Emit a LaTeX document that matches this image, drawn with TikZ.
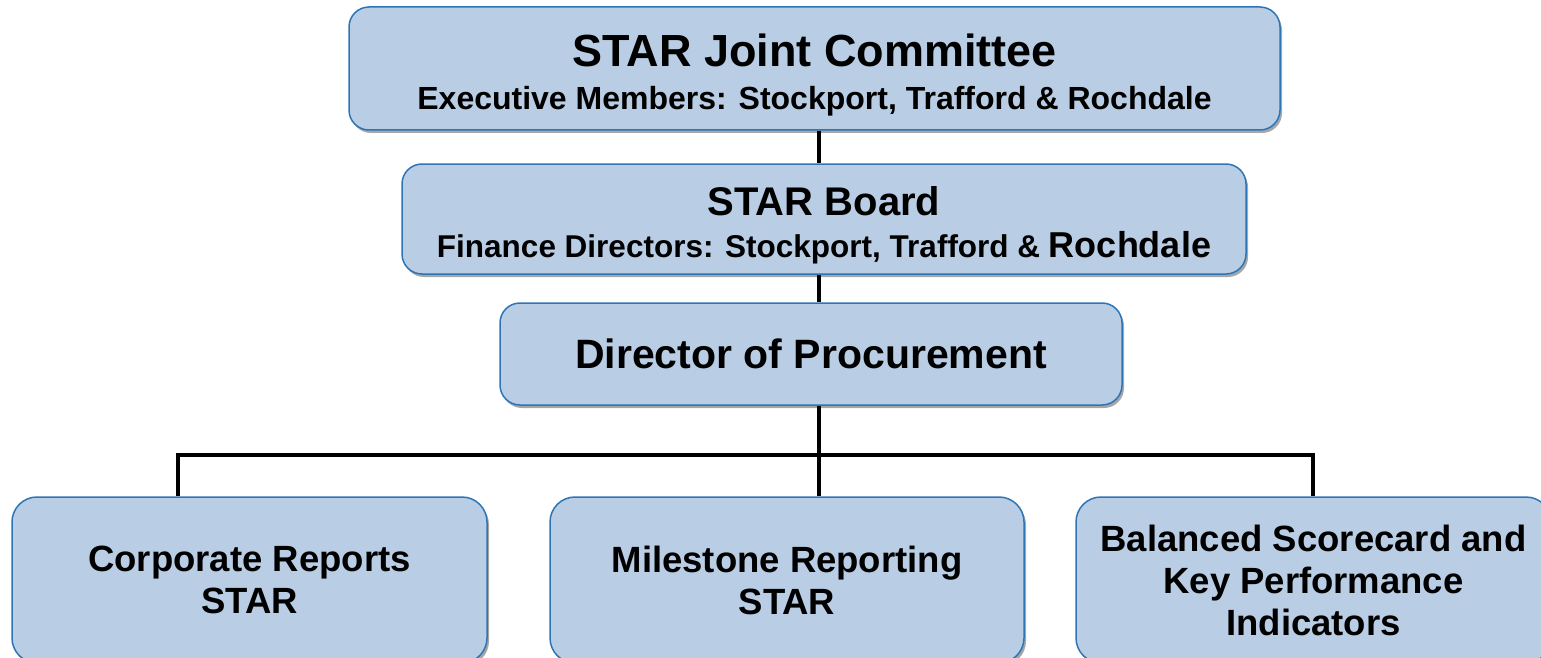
\documentclass[tikz,border=0pt]{standalone}
\usepackage{fontspec}
\setmainfont{Liberation Sans}
\usetikzlibrary{shadows}
\definecolor{boxfill}{HTML}{B9CDE5}
\definecolor{boxline}{HTML}{2E75B6}
\newcommand{\fsz}[2]{\fontsize{#1}{#2}\selectfont\bfseries}
\begin{document}
\begin{tikzpicture}[x=1pt, y=-1pt,
		box/.style = {draw=boxline, fill=boxfill, line width=1.5pt, rounded corners=20pt, align=center, inner sep=0pt,
			drop shadow={shadow xshift=2pt, shadow yshift=-3pt, fill=black, opacity=0.35}},
		leaf/.style = {box, rounded corners=25pt, minimum height=166pt, font=\fsz{36.5}{42}},
		link/.style = {line width=4pt}]
	\useasboundingbox (0,0) rectangle (1541,658);
	% top
	\node[box, minimum width=931pt, minimum height=123pt, font=\fsz{32}{43}] (jc) at (814.5,68.5)
		{{\fsz{45}{43}\rule{0pt}{45pt}STAR Joint Committee}\\
		 Executive Members: Stockport, Trafford \& Rochdale};
	\node[box, minimum width=844pt, minimum height=110pt, font=\fsz{31.5}{42}] (board) at (824,219)
		{{\fsz{40}{42}\rule{0pt}{41pt}STAR Board}\\
		 Finance Directors: Stockport, Trafford \& {\fontsize{36}{42}\selectfont Rochdale}};
	\node[box, minimum width=622pt, minimum height=102pt, font=\fsz{41}{41}] (dir) at (811,354)
		{Director of Procurement};
	% bottom
	\node[leaf, minimum width=475pt] (lft) at (249.5,580) {Corporate Reports\\ STAR};
	\node[leaf, minimum width=474pt] (mid) at (787,580) {Milestone Reporting\\ STAR};
	\node[leaf, minimum width=475pt] (rgt) at (1313.5,580) {Balanced Scorecard and\\ Key Performance\\ Indicators};
	% links
	\coordinate (spine) at (819,455);
	\coordinate (busL) at (178,455);
	\coordinate (busR) at (1313,455);
	\draw[link] (jc.south -| spine) -- (board.north -| spine);
	\draw[link] (board.south -| spine) -- (dir.north -| spine);
	\draw[link] (dir.south -| spine) -- (spine) -- (mid.north -| spine);
	\draw[link] (lft.north -| busL) -- (busL) -- (busR) -- (rgt.north -| busR);
\end{tikzpicture}
\end{document}
